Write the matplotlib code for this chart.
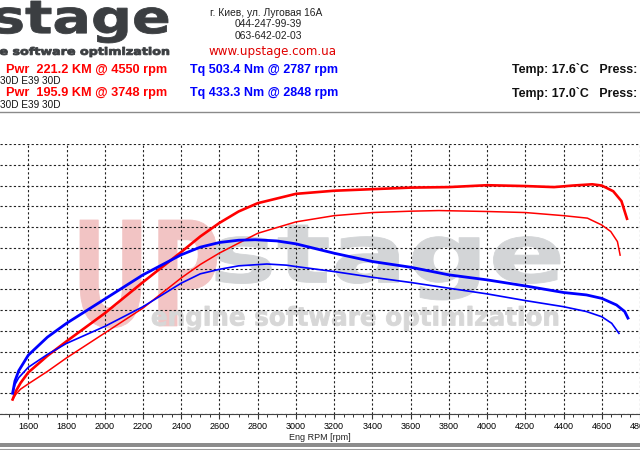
import matplotlib
matplotlib.use('Agg')
import matplotlib.pyplot as plt
from matplotlib.textpath import TextPath
from matplotlib.patches import PathPatch, Rectangle
from matplotlib.font_manager import FontProperties
from matplotlib.transforms import Affine2D
from matplotlib.lines import Line2D

plt.rcParams['font.family'] = ['Liberation Sans', 'DejaVu Sans']

# мощность (KM), тюнинг - толстая линия, сток - тонкая
rpm_pwr_tuned = [1518, 1535, 1560, 1600, 1700, 1800, 2000, 2200, 2400, 2500, 2600, 2700, 2800,
                 3000, 3200, 3400, 3600, 3800, 4000, 4200, 4350, 4450, 4550, 4600, 4660, 4703, 4732]
pwr_tuned = [14, 22, 30, 40, 56, 70, 97, 127, 156, 171, 184, 195, 203,
             212, 215, 216.5, 218, 218.5, 220.3, 219.5, 218.5, 220, 221.2, 220, 214.5, 205, 188]

rpm_pwr_stock = [1518, 1535, 1560, 1600, 1700, 1800, 2000, 2200, 2400, 2500, 2600, 2800,
                 3000, 3200, 3400, 3600, 3748, 4000, 4200, 4400, 4525, 4560, 4600, 4647, 4682, 4696]
pwr_stock = [14, 19, 24, 29, 41, 54, 78, 102, 131, 144, 155, 174,
             185, 191, 194, 195.3, 195.9, 195, 194, 191, 188.6, 185.5, 182, 175.7, 166, 153]

# крутящий момент (Nm)
rpm_tq_tuned = [1518, 1530, 1550, 1600, 1700, 1800, 2000, 2200, 2400, 2500, 2600, 2700, 2787,
                2900, 3000, 3200, 3400, 3600, 3800, 4000, 4200, 4400, 4520, 4600, 4677, 4720, 4737]
tq_tuned = [60, 95, 125, 170, 222, 262, 332, 402, 460, 482, 495.5, 502, 503.4,
            500, 491.6, 464.5, 440.5, 424, 402, 387.5, 370, 351, 344, 334, 315, 296, 277]

rpm_tq_stock = [1518, 1530, 1550, 1600, 1700, 1800, 2000, 2200, 2400, 2500, 2600, 2700, 2848,
                2950, 3000, 3200, 3400, 3600, 3800, 4000, 4200, 4400, 4520, 4600, 4652, 4690]
tq_stock = [60, 85, 105, 135, 172, 204, 253, 310, 378, 405, 418, 428, 433.3,
            430, 426, 411.5, 395, 380, 363.4, 347, 327.7, 310, 296, 281, 262, 233]

rpm_ticks = list(range(1600, 4801, 200))

W, H = 640, 450
fig = plt.figure(figsize=(6.4, 4.5), dpi=100, facecolor='white')


def fy(y):
    return 1 - y / H


def fit_text(s, x0, y0, x1, y1, color, family='DejaVu Sans'):
    # текст-картинка, вписанный в прямоугольник (пиксели, от верхнего левого угла)
    tp = TextPath((0, 0), s, size=100, prop=FontProperties(family=family, weight='bold'))
    ext = tp.get_extents()
    tr = (Affine2D().translate(-ext.x0, -ext.y0)
          .scale((x1 - x0) / ext.width, (y1 - y0) / ext.height)
          .translate(x0, H - y1)
          + Affine2D().scale(1 / W, 1 / H) + fig.transFigure)
    fig.add_artist(PathPatch(tp, fc=color, ec=color, lw=0.6, transform=tr, zorder=-1))


# шапка
fit_text('stage', -6, 1, 168, 43, '#3b3e41')
fit_text('e software optimization', 0, 47, 169, 57, '#3b3e41')
fig.text(266 / W, fy(13), 'г. Киев, ул. Луговая 16А', ha='center', va='center', fontsize=7.4, color='#222')
fig.text(268 / W, fy(24), '044-247-99-39', ha='center', va='center', fontsize=7.4, color='#222')
fig.text(268 / W, fy(36), '063-642-02-03', ha='center', va='center', fontsize=7.4, color='#222')
fig.text(273 / W, fy(51), 'www.upstage.com.ua', ha='center', va='center', fontsize=8.6,
         color='#e00000', family='DejaVu Sans')

rows = [('Pwr  221.2 KM @ 4550 rpm', 'Tq 503.4 Nm @ 2787 rpm', 'Temp: 17.6`C   Press:', 70, 81),
        ('Pwr  195.9 KM @ 3748 rpm', 'Tq 433.3 Nm @ 2848 rpm', 'Temp: 17.0`C   Press:', 93, 105)]
for pwr_txt, tq_txt, temp_txt, y, y2 in rows:
    fig.text(6 / W, fy(y), pwr_txt, va='center', fontsize=9.2, fontweight='bold', color='#ff0000')
    fig.text(190 / W, fy(y), tq_txt, va='center', fontsize=9.0, fontweight='bold', color='#0000ff')
    fig.text(512 / W, fy(y), temp_txt, va='center', fontsize=8.9, fontweight='bold', color='#111')
    fig.text(0, fy(y2), '30D E39 30D', va='center', fontsize=7.2, color='#111')

fig.add_artist(Line2D([0, 1], [fy(112), fy(112)], color='#8a8a8a', lw=1))

# водяной знак
fit_text('UP', 80, 220, 217, 328, '#f2c4c4')
fit_text('stage', 215, 225, 560, 300, '#d3d5d7')
fit_text('engine software optimization', 152, 306, 558, 331, '#d7d7d7')

# график
ax = fig.add_axes([0, fy(414), 1, 270 / H])
ax.patch.set_visible(False)
ax2 = ax.twinx()

ax.plot(rpm_pwr_stock, pwr_stock, color='#ff0000', lw=1.1, zorder=3)
ax.plot(rpm_pwr_tuned, pwr_tuned, color='#ff0000', lw=1.9, zorder=3)
ax2.plot(rpm_tq_stock, tq_stock, color='#0000ff', lw=1.2, zorder=3)
ax2.plot(rpm_tq_tuned, tq_tuned, color='#0000ff', lw=2.0, zorder=3)

ax.set_xlim(1452, 4798)
ax.set_ylim(0, 260)
ax2.set_ylim(0, 780)

ax.set_xticks(rpm_ticks)
ax.set_xticks(range(1500, 4801, 50), minor=True)
ax.set_yticks(range(0, 261, 20))
ax.tick_params(axis='x', which='major', labelsize=6.5, length=3.5, width=0.8, pad=2.5, color='#333')
ax.tick_params(axis='x', which='minor', length=2.5, width=0.7, color='#333')
ax.tick_params(axis='y', left=False, labelleft=False)
ax2.tick_params(axis='y', right=False, labelright=False)

ax.grid(True, which='major', color='#222', lw=0.8, ls=(0, (2, 2)))
ax.set_axisbelow(True)

for a in (ax, ax2):
    for side in ('top', 'left', 'right'):
        a.spines[side].set_visible(False)
    a.spines['bottom'].set_color('#444')
ax2.spines['bottom'].set_visible(False)

fig.text(320 / W, fy(437), 'Eng RPM [rpm]', ha='center', va='center', fontsize=6.5, color='#222')

# нижняя рамка окна
fig.add_artist(Rectangle((0, fy(447)), 1, 4 / H, transform=fig.transFigure, fc='#8c8c8c', ec='none'))
fig.add_artist(Line2D([0, 1], [fy(449.3), fy(449.3)], color='#9a9a9a', lw=0.8))

fig.savefig('out.png', dpi=100, facecolor='white')
